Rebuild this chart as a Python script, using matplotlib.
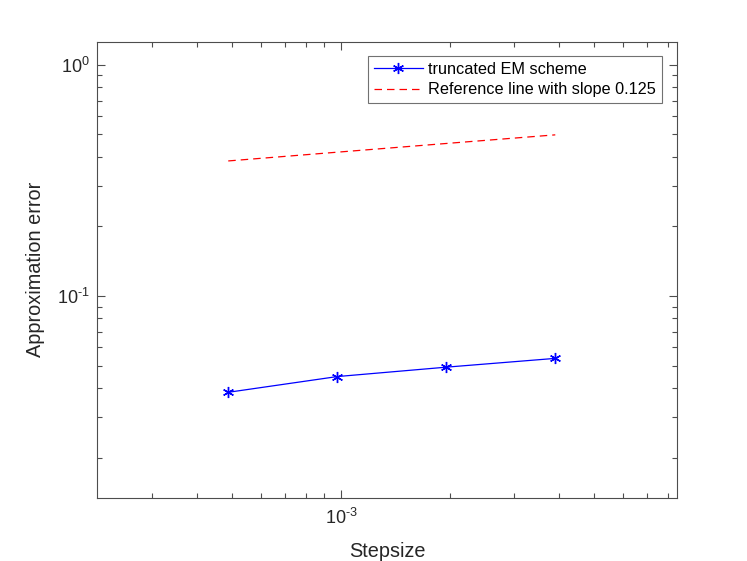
import matplotlib

matplotlib.use("Agg")
import matplotlib.pyplot as plt
import numpy as np
from matplotlib.ticker import FuncFormatter, LogLocator, NullFormatter

# step sizes 2^-11 .. 2^-8
stepsizes = [2.0 ** -11, 2.0 ** -10, 2.0 ** -9, 2.0 ** -8]
em_error = [0.0383, 0.0448, 0.0492, 0.0537]
ref_line = [0.384, 0.419, 0.457, 0.498]

plt.rcParams["font.family"] = ["Liberation Sans", "DejaVu Sans"]
plt.rcParams["mathtext.fontset"] = "custom"
plt.rcParams["mathtext.rm"] = "Liberation Sans"
plt.rcParams["mathtext.it"] = "Liberation Sans"

axis_col = "#4d4d4d"
text_col = "#262626"


def pow10(v, _pos):
    n = int(round(np.log10(v)))
    if n < 0:
        return r"$10^{\text{-}%d}$" % abs(n)
    return r"$10^{%d}$" % n


fig = plt.figure(figsize=(7.47, 5.61), dpi=100)
ax = fig.add_axes([0.1299, 0.1123, 0.7764, 0.8134])

ax.loglog(stepsizes, em_error, color="#0000ff", lw=0.9, marker=(6, 2, 0),
          ms=8, mew=1.0, label="truncated EM scheme")
ax.loglog(stepsizes, ref_line, color="#ff0000", lw=0.9, ls=(0, (6, 4)),
          label="Reference line with slope 0.125")

ax.set_xlim(2.12e-4, 8.47e-3)
ax.set_ylim(0.01336, 1.26)

ax.xaxis.set_major_locator(LogLocator(base=10))
ax.yaxis.set_major_locator(LogLocator(base=10))
ax.xaxis.set_minor_locator(LogLocator(base=10, subs=range(2, 10)))
ax.yaxis.set_minor_locator(LogLocator(base=10, subs=range(2, 10)))
ax.xaxis.set_major_formatter(FuncFormatter(pow10))
ax.yaxis.set_major_formatter(FuncFormatter(pow10))
ax.xaxis.set_minor_formatter(NullFormatter())
ax.yaxis.set_minor_formatter(NullFormatter())

ax.tick_params(which="both", direction="in", top=True, right=True,
               color=axis_col, labelcolor=text_col, labelsize=13, width=0.8)
ax.tick_params(which="major", length=6)
ax.tick_params(which="minor", length=3.5)
ax.tick_params(axis="x", which="major", pad=7)
ax.tick_params(axis="y", which="major", pad=5)
for sp in ax.spines.values():
    sp.set_color(axis_col)
    sp.set_linewidth(0.8)

ax.set_xlabel("Stepsize", fontsize=14.3, color=text_col, labelpad=10)
ax.set_ylabel("Approximation error", fontsize=14.3, color=text_col, labelpad=9)

leg = ax.legend(loc="upper right", bbox_to_anchor=(0.974, 0.969), fontsize=11.7,
                frameon=True, fancybox=False, handlelength=3.0,
                borderpad=0.35, labelspacing=0.35, handletextpad=0.35,
                borderaxespad=0)
leg.get_frame().set_edgecolor(axis_col)
leg.get_frame().set_linewidth(0.8)

fig.savefig("out.png", dpi=100)
